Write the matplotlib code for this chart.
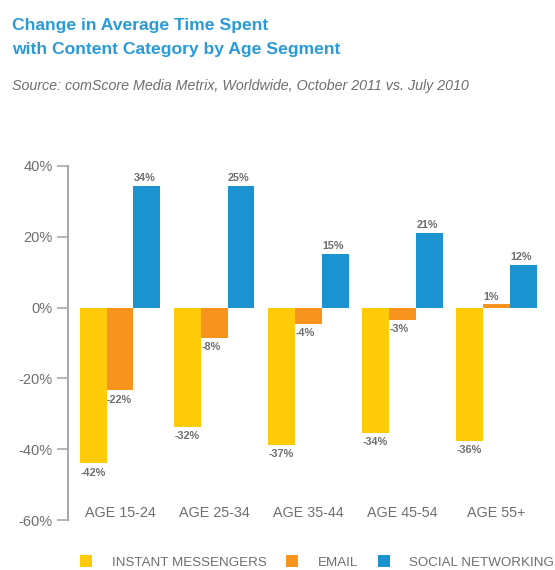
"""Change in average time spent with content category by age segment."""

import matplotlib

matplotlib.use("Agg")

import matplotlib.pyplot as plt  # noqa: E402
import numpy as np  # noqa: E402
from matplotlib.patches import Patch  # noqa: E402

plt.rcParams["font.family"] = ["Liberation Sans", "DejaVu Sans"]

age_groups = ["AGE 15-24", "AGE 25-34", "AGE 35-44", "AGE 45-54", "AGE 55+"]
series_names = ["INSTANT MESSENGERS", "EMAIL", "SOCIAL NETWORKING"]

# bar heights as drawn in the source chart
instant_messengers = [-44, -33.7, -38.9, -35.4, -37.7]
email = [-23.4, -8.6, -4.6, -3.4, 0.9]
social_networking = [34.4, 34.4, 15.2, 21.1, 12.1]

# value labels as printed in the source chart
instant_messengers_labels = ["-42%", "-32%", "-37%", "-34%", "-36%"]
email_labels = ["-22%", "-8%", "-4%", "-3%", "1%"]
social_networking_labels = ["34%", "25%", "15%", "21%", "12%"]

y_ticks = [40, 20, 0, -20, -40, -60]

colors = ["#FFCB08", "#F7941E", "#1A93D0"]
text_gray = "#6D6E71"
title_blue = "#2A9AD8"

fig = plt.figure(figsize=(5.55, 5.70), dpi=100)
ax = fig.add_axes([0.1225, 0.0877, 0.8775, 0.6211])

x = np.arange(len(age_groups))
width = 0.285
all_values = [instant_messengers, email, social_networking]
all_labels = [instant_messengers_labels, email_labels, social_networking_labels]

for k, (values, labels, color) in enumerate(zip(all_values, all_labels, colors)):
    positions = x + (k - 1) * width
    ax.bar(positions, values, width=width, color=color, edgecolor="none")
    for pos, val, lab in zip(positions, values, labels):
        left = pos - width / 2 + 0.005
        if val >= 0:
            ax.annotate(lab, (left, val), xytext=(0, 2), textcoords="offset points",
                        ha="left", va="bottom", fontsize=7.8, fontweight="bold",
                        color=text_gray)
        else:
            ax.annotate(lab, (left, val), xytext=(0, -3), textcoords="offset points",
                        ha="left", va="top", fontsize=7.8, fontweight="bold",
                        color=text_gray)

for i, name in enumerate(age_groups):
    ax.text(x[i], -58, name, ha="center", va="center", fontsize=10.3, color=text_gray)

ax.set_xlim(-0.553, 4.62)
ax.set_ylim(-60, 40)
ax.set_yticks(y_ticks)
ax.set_yticklabels([f"{t}%" for t in y_ticks], fontsize=10.5, color=text_gray)
ax.set_xticks([])
for side in ["top", "right", "bottom"]:
    ax.spines[side].set_visible(False)
ax.spines["left"].set_color("#A7A9AC")
ax.spines["left"].set_linewidth(1.5)
ax.tick_params(axis="y", length=8, width=1.2, color="#A7A9AC", pad=3)

fig.text(0.022, 0.956, "Change in Average Time Spent",
         ha="left", va="center", fontsize=12.6, fontweight="bold", color=title_blue)
fig.text(0.022, 0.913, "with Content Category by Age Segment",
         ha="left", va="center", fontsize=12.6, fontweight="bold", color=title_blue)
fig.text(0.022, 0.849, "Source: comScore Media Metrix, Worldwide, October 2011 vs. July 2010",
         ha="left", va="center", fontsize=10.3, style="italic", color=text_gray)

handles = [Patch(facecolor=c, edgecolor="none") for c in colors]
fig.legend(handles, series_names, loc="center left", bbox_to_anchor=(0.135, 0.014),
           ncol=3, frameon=False, handlelength=0.9, handleheight=0.9,
           handletextpad=1.45, columnspacing=1.5, fontsize=9.6,
           labelcolor=text_gray, borderaxespad=0)

fig.savefig("out.png", dpi=100)
